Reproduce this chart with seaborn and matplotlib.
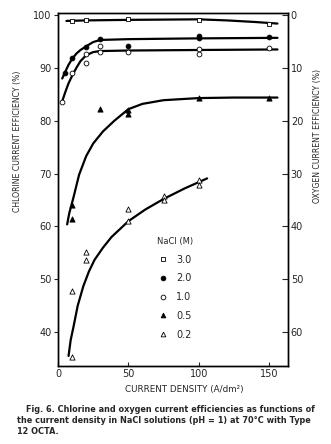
import matplotlib
matplotlib.use("Agg")
import matplotlib.pyplot as plt
import seaborn as sns
import pandas as pd
from matplotlib.lines import Line2D

sns.set_style("ticks")
plt.rcParams['font.family'] = ['DejaVu Sans']

# ---- data ----
concentrations = ["3.0", "2.0", "1.0", "0.5", "0.2"]

# measured points
pts_x_30 = [10, 20, 50, 100, 150]
pts_y_30 = [98.9, 99.1, 99.2, 99.0, 98.4]
pts_x_20 = [5, 10, 20, 30, 50, 100, 100, 150]
pts_y_20 = [89.0, 91.8, 94.0, 95.4, 94.2, 96.1, 95.6, 95.9]
pts_x_10 = [3, 10, 20, 20, 30, 30, 50, 100, 100, 150]
pts_y_10 = [83.6, 89.0, 90.9, 92.6, 94.1, 93.1, 93.0, 93.6, 92.7, 93.7]
pts_x_05 = [10, 10, 30, 50, 50, 100, 150]
pts_y_05 = [61.4, 64.0, 82.2, 82.1, 81.3, 84.4, 84.4]
pts_x_02 = [10, 10, 20, 20, 50, 50, 75, 75, 100, 100]
pts_y_02 = [35.3, 47.7, 55.2, 53.7, 63.4, 61.0, 65.7, 65.0, 68.8, 67.9]

# hand-drawn fitted curves
crv_x_30 = [6, 20, 50, 100, 120, 140, 156]
crv_y_30 = [98.9, 99.0, 99.1, 99.2, 99.0, 98.7, 98.4]
crv_x_20 = [3, 5, 7.5, 10, 13, 16, 20, 25, 30, 50, 100, 156]
crv_y_20 = [88.0, 89.2, 90.6, 91.7, 92.7, 93.4, 94.1, 94.9, 95.3, 95.45, 95.6, 95.7]
crv_x_10 = [3, 5, 7.5, 10, 13, 16, 20, 25, 30, 50, 100, 156]
crv_y_10 = [83.7, 85.3, 87.1, 88.5, 90.0, 91.3, 92.4, 93.0, 93.2, 93.3, 93.4, 93.5]
crv_x_05 = [6.5, 8, 11, 15, 20, 25, 32, 40, 50, 60, 75, 100, 125, 156]
crv_y_05 = [60.4, 62.5, 65.5, 69.8, 73.3, 75.7, 78.0, 80.0, 82.2, 83.2, 83.9, 84.3, 84.4, 84.4]
crv_x_02 = [7.5, 9, 11, 14, 18, 22, 26, 32, 38, 50, 62, 75, 90, 106]
crv_y_02 = [35.5, 38.5, 41.0, 45.0, 48.7, 51.5, 53.7, 56.0, 58.0, 61.0, 63.2, 65.2, 67.2, 69.1]

x_ticks = [0, 50, 100, 150]
y_ticks_left = [40, 50, 60, 70, 80, 90, 100]
y_ticks_right = [0, 10, 20, 30, 40, 50, 60]

caption_lines = [
    "Fig. 6. Chlorine and oxygen current efficiencies as functions of",
    "the current density in NaCl solutions (pH = 1) at 70°C with Type",
    "12 OCTA.",
]

points = {
    "3.0": (pts_x_30, pts_y_30),
    "2.0": (pts_x_20, pts_y_20),
    "1.0": (pts_x_10, pts_y_10),
    "0.5": (pts_x_05, pts_y_05),
    "0.2": (pts_x_02, pts_y_02),
}
curves = {
    "3.0": (crv_x_30, crv_y_30),
    "2.0": (crv_x_20, crv_y_20),
    "1.0": (crv_x_10, crv_y_10),
    "0.5": (crv_x_05, crv_y_05),
    "0.2": (crv_x_02, crv_y_02),
}
marker_style = {
    "3.0": ("s", "white", 11),
    "2.0": ("o", "black", 12),
    "1.0": ("o", "white", 12),
    "0.5": ("^", "black", 14),
    "0.2": ("^", "white", 14),
}

# ---- figure ----
W, H = 331, 444
fig = plt.figure(figsize=(W / 100, H / 100), dpi=100)
ax = fig.add_axes([58 / W, 78 / H, 230 / W, 353 / H])

for c in concentrations:
    cx, cy = curves[c]
    dfc = pd.DataFrame({"x": cx, "y": cy})
    sns.lineplot(data=dfc, x="x", y="y", ax=ax, color="black", lw=1.6,
                 sort=False, estimator=None, zorder=2)
for c in concentrations:
    px, py = points[c]
    dfp = pd.DataFrame({"x": px, "y": py})
    m, fc, s = marker_style[c]
    sns.scatterplot(data=dfp, x="x", y="y", ax=ax, marker=m, s=s,
                    facecolor=fc, edgecolor="black", linewidth=0.6, zorder=3)

ax.set_xlim(0, 163.5)
ax.set_ylim(33.6, 100.4)
ax.set_xticks(x_ticks)
ax.set_yticks(y_ticks_left)
ax.tick_params(axis="x", direction="in", length=3, labelsize=7, pad=2.5, width=0.8)
ax.tick_params(axis="y", direction="out", length=3, labelsize=7, pad=1.5, width=0.8)
for sp in ax.spines.values():
    sp.set_linewidth(1.0)
    sp.set_color("black")

ax.set_xlabel("CURRENT DENSITY (A/dm²)", fontsize=6.3)
ax.xaxis.set_label_coords(0.55, -0.053)
ax.set_ylabel("CHLORINE CURRENT EFFICIENCY (%)", fontsize=5.6)
ax.yaxis.set_label_coords(-0.155, 0.637)

ax2 = ax.twinx()
ax2.set_ylim(100 - 33.6, 100 - 100.4)
ax2.set_yticks(y_ticks_right)
ax2.tick_params(axis="y", direction="in", length=4, labelsize=7, pad=2, width=0.8)
ax2.set_ylabel("OXYGEN CURRENT EFFICIENCY (%)", fontsize=5.6, rotation=90)
ax2.yaxis.set_label_coords(1.11, 0.652)
for sp in ax2.spines.values():
    sp.set_linewidth(1.0)
    sp.set_color("black")

# legend
handles = []
for c in concentrations:
    m, fc, s = marker_style[c]
    handles.append(Line2D([], [], linestyle="none", marker=m, markersize=3.4,
                          markerfacecolor=fc, markeredgecolor="black",
                          markeredgewidth=0.6, label=c))
leg = ax.legend(handles=handles, title="NaCl (M)", loc="upper left",
                bbox_to_anchor=((150 - 58) / 230, (366 - 230) / 353),
                frameon=False, fontsize=7, title_fontsize=6,
                labelspacing=0.9, handletextpad=0.8, handlelength=1.0,
                borderpad=0.2)

fig.text(26 / W, 1 - 409 / H, caption_lines[0], fontsize=5.85,
         fontweight="bold", va="center", ha="left")
fig.text(17 / W, 1 - 420 / H, caption_lines[1], fontsize=5.85,
         fontweight="bold", va="center", ha="left")
fig.text(17 / W, 1 - 431 / H, caption_lines[2], fontsize=5.85,
         fontweight="bold", va="center", ha="left")

fig.savefig("out.png", dpi=100)
